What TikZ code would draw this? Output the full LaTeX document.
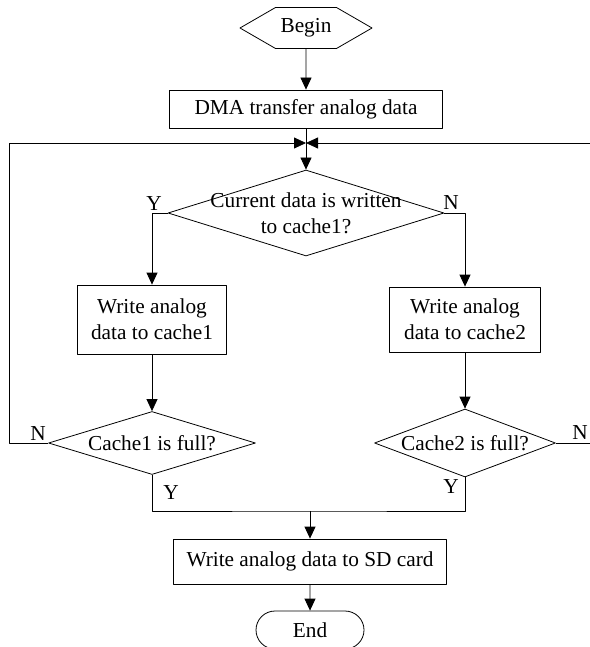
\documentclass[tikz,border=0pt]{standalone}
\usepackage{fontspec}
\setmainfont{Liberation Serif}
\usetikzlibrary{arrows.meta,shapes.geometric,shapes.symbols,shapes.misc}

\begin{document}
\begin{tikzpicture}[x=1pt, y=-1pt, font=\fontsize{21.3}{26}\selectfont, line join=round, line width=0.8pt, >={Triangle[length=12pt,width=11pt]},
  proc/.style={draw, rectangle, inner sep=0pt, align=center},
  dec/.style={draw, diamond, inner sep=0pt},
  lab/.style={inner sep=0pt}]
\useasboundingbox (0,0) rectangle (589,647);
\node[draw, signal, signal to=east and west, signal pointer angle=60, minimum width=132, minimum height=41, inner sep=0pt] (bg) at (306,28) {Begin};
\node[proc, minimum width=273, minimum height=38] (dma) at (306,109) {DMA transfer analog data};
\node[dec, minimum width=276, minimum height=86, label={[name=d1t, align=center]center:Current data is written\\to cache1?}] (d1) at (306,213) {};
\node[proc, minimum width=149, minimum height=69] (b1) at (152,319.5) {Write analog\\data to cache1};
\node[proc, minimum width=151, minimum height=65] (b2) at (465,319.5) {Write analog\\data to cache2};
\node[dec, minimum width=207, minimum height=63, label={[name=c1t]center:Cache1 is full?}] (c1) at (152,443) {};
\node[dec, minimum width=181, minimum height=68, label={[name=c2t]center:Cache2 is full?}] (c2) at (465,443) {};
\node[proc, minimum width=273, minimum height=45] (sd) at (310,561.5) {Write analog data to SD card};
\node[draw, rounded rectangle, minimum width=108, minimum height=38, inner sep=0pt] (fin) at (310,630) {End};
\coordinate (lp) at (306,143);
\coordinate (mg) at (310,511);
\draw[->] (bg) -- (dma);
\draw[->] (dma) -- (d1);
\draw[->] (d1.west) -| (b1);
\draw[->] (d1.east) -| (b2);
\draw[->] (b1) -- (c1);
\draw[->] (b2) -- (c2);
\draw[->] (c1.west) -- ++(-39,0) |- (lp);
\draw[->] (c2.east) -- ++(50,0) |- (lp);
\draw (c1.south) |- (mg) -| (c2.south);
\draw[->] (mg) -- (sd);
\draw[->] (sd) -- (fin);
\node[lab] (y1) at (154,204) {Y};
\node[lab] (n1) at (451,203) {N};
\node[lab] (n2) at (38,434) {N};
\node[lab] (n3) at (580,433) {N};
\node[lab] (y2) at (171,493) {Y};
\node[lab] (y3) at (451,487) {Y};
\end{tikzpicture}
\end{document}
